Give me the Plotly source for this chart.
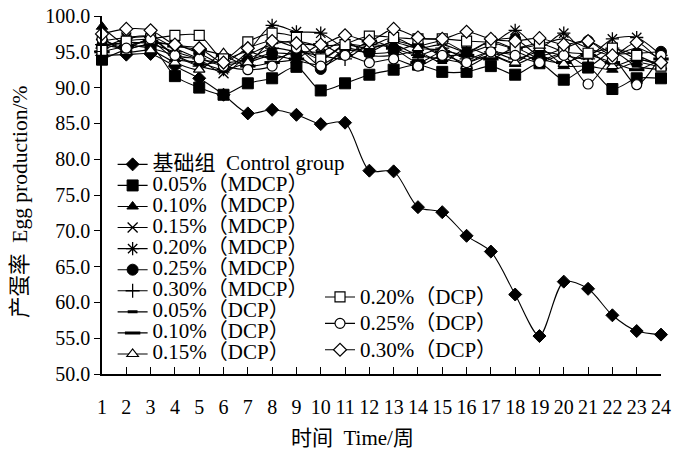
import plotly.graph_objects as go

weeks = list(range(1, 25))

names = ["基础组  Control group", "0.05%（MDCP）", "0.10%（MDCP）", "0.15%（MDCP）",
         "0.20%（MDCP）", "0.25%（MDCP）", "0.30%（MDCP）", "0.05%（DCP）",
         "0.10%（DCP）", "0.15%（DCP）", "0.20%（DCP）", "0.25%（DCP）", "0.30%（DCP）"]

control = [94.5, 94.6, 94.7, 93.0, 91.3, 89.0, 86.4, 86.9, 86.2, 84.9, 85.1, 78.4,
           78.3, 73.3, 72.6, 69.3, 67.1, 61.1, 55.3, 62.9, 61.9, 58.2, 56.0, 55.5]
mdcp_005 = [93.9, 95.3, 95.8, 91.6, 90.0, 89.0, 90.6, 91.3, 92.9, 89.6, 90.6, 91.8,
            92.5, 93.2, 92.2, 92.2, 93.0, 91.8, 93.4, 91.1, 92.8, 89.8, 91.3, 91.3]
mdcp_010 = [98.5, 96.0, 96.5, 94.0, 93.5, 92.5, 93.5, 94.5, 93.8, 93.2, 95.0, 95.5,
            96.0, 94.5, 94.0, 93.5, 94.5, 93.3, 94.5, 93.0, 93.0, 92.5, 93.5, 92.8]
mdcp_015 = [96.5, 97.0, 97.2, 95.5, 94.0, 92.0, 94.5, 96.0, 96.5, 95.8, 96.0, 95.5,
            96.3, 95.5, 96.0, 95.0, 96.5, 95.5, 96.0, 96.8, 95.5, 94.5, 95.5, 94.0]
mdcp_020 = [95.5, 96.8, 97.0, 94.5, 93.0, 92.5, 95.0, 98.7, 97.8, 97.6, 95.5, 95.0,
            96.5, 95.8, 96.5, 95.0, 96.0, 98.0, 95.5, 97.6, 94.5, 96.8, 97.0, 94.5]
mdcp_025 = [95.8, 96.3, 96.2, 96.0, 94.8, 93.2, 93.8, 94.8, 94.5, 92.6, 95.5, 94.8,
            95.0, 96.0, 94.5, 94.8, 96.5, 96.8, 94.5, 95.5, 96.5, 94.8, 94.8, 95.0]
mdcp_030 = [96.0, 95.5, 96.0, 95.0, 94.0, 93.5, 94.0, 95.5, 95.0, 94.5, 94.0, 96.0,
            95.5, 94.5, 95.5, 94.0, 95.0, 94.0, 95.0, 94.5, 94.0, 95.5, 94.0, 93.5]
dcp_005 = [96.3, 96.0, 95.5, 94.5, 93.2, 93.8, 95.0, 94.0, 95.0, 95.0, 96.5, 94.5,
           94.5, 95.0, 93.5, 95.5, 94.5, 95.0, 93.8, 94.8, 93.0, 95.0, 93.0, 92.5]
dcp_010 = [95.0, 95.8, 96.5, 95.8, 95.3, 94.5, 93.0, 93.5, 94.0, 96.0, 94.5, 96.5,
           95.5, 93.5, 95.0, 94.5, 94.0, 95.5, 94.0, 93.5, 94.5, 93.5, 92.5, 94.0]
dcp_015 = [97.0, 95.0, 95.2, 93.5, 92.5, 94.8, 93.5, 96.5, 95.5, 94.0, 96.0, 95.8,
           97.0, 95.5, 95.2, 93.0, 94.5, 93.5, 95.5, 93.3, 95.0, 93.0, 94.0, 93.0]
dcp_020 = [95.2, 96.5, 96.8, 97.3, 97.3, 94.0, 96.4, 97.6, 97.0, 94.0, 96.0, 97.2,
           97.0, 96.8, 96.8, 96.5, 96.3, 95.5, 96.2, 95.0, 94.8, 95.5, 94.5, 93.0]
dcp_025 = [96.8, 95.5, 96.8, 94.5, 94.0, 93.0, 92.5, 93.0, 95.5, 93.0, 94.5, 93.5,
           94.0, 93.0, 94.5, 93.5, 95.0, 94.5, 93.5, 94.5, 90.5, 94.0, 90.4, 94.5]
dcp_030 = [97.5, 98.2, 98.0, 96.0, 95.5, 93.5, 95.5, 96.5, 96.2, 96.0, 97.3, 96.5,
           98.2, 97.0, 96.8, 97.8, 96.8, 96.5, 96.9, 96.0, 96.5, 94.5, 96.3, 93.5]

series = [control, mdcp_005, mdcp_010, mdcp_015, mdcp_020, mdcp_025, mdcp_030,
          dcp_005, dcp_010, dcp_015, dcp_020, dcp_025, dcp_030]

y_ticks = [50 + 5 * i for i in range(11)]

x_title = "时间  Time/周"
y_title = "产蛋率  Egg production/%"

# marker styles: (symbol, size, fill, line width)
styles = [
    ("diamond", 10, "black", 1),
    ("square", 11, "black", 1),
    ("triangle-up", 10, "black", 1),
    ("x-thin-open", 10, "black", 1.3),
    ("asterisk-open", 11, "black", 1.3),
    ("circle", 11, "black", 1),
    ("cross-thin-open", 10, "black", 1.3),
    ("line-ew-open", 7, "black", 3),
    ("line-ew-open", 11, "black", 3),
    ("triangle-up", 10, "white", 1.2),
    ("square", 10, "white", 1.2),
    ("circle", 10, "white", 1.2),
    ("diamond", 10, "white", 1.2),
]

FONT = "Liberation Serif, Times New Roman, Noto Sans CJK SC, serif"

fig = go.Figure()
for i, (nm, vals, st) in enumerate(zip(names, series, styles)):
    sym, sz, fill, lw = st
    second = i >= 10
    label = f'<span style="font-size:21px">{nm}</span>'
    fig.add_trace(go.Scatter(
        x=weeks, y=vals, name=label, mode="lines+markers",
        line=dict(color="black", width=1.1, shape="spline", smoothing=0.8),
        marker=dict(symbol=sym, size=sz, color=fill,
                    line=dict(color="black", width=lw)),
        cliponaxis=False,
        legend="legend2" if second else "legend",
    ))

fig.update_layout(
    width=675, height=451,
    margin=dict(l=102, r=14, t=16, b=77, autoexpand=False),
    plot_bgcolor="white", paper_bgcolor="white",
    font=dict(family=FONT, size=20, color="black"),
    showlegend=True,
    legend=dict(x=0.019, y=0.629, xanchor="left", yanchor="top",
                bgcolor="rgba(0,0,0,0)", font=dict(size=13.9, family=FONT),
                tracegroupgap=0, itemwidth=30),
    legend2=dict(x=0.39, y=0.266, xanchor="left", yanchor="top",
                 bgcolor="rgba(0,0,0,0)", font=dict(size=18, family=FONT),
                 tracegroupgap=0, itemwidth=30),
    xaxis=dict(range=[1, 24], tickmode="array", tickvals=weeks,
               ticktext=[str(w) for w in weeks], automargin=False,
               showline=True, linecolor="black", linewidth=1.5,
               ticks="inside", ticklen=7, tickcolor="black", tickwidth=1.2,
               showgrid=False, zeroline=False, ticklabelstandoff=14,
               tickfont=dict(size=20, family=FONT)),
    yaxis=dict(range=[50, 100], tickmode="array", tickvals=y_ticks,
               ticktext=[f"{v:.1f}" for v in y_ticks], automargin=False,
               showline=True, linecolor="black", linewidth=1.5,
               ticks="outside", ticklen=6, tickcolor="black", tickwidth=1.2,
               showgrid=False, zeroline=False,
               tickfont=dict(size=20, family=FONT)),
    annotations=[
        dict(text=x_title, xref="paper", yref="paper", x=0.448, y=0,
             xanchor="center", yanchor="middle", yshift=-64, showarrow=False,
             font=dict(size=21, family=FONT)),
        dict(text=y_title, xref="paper", yref="paper", x=0, y=0.5,
             xanchor="center", yanchor="middle", xshift=-82, yshift=-7,
             textangle=-90, showarrow=False, font=dict(size=21.5, family=FONT)),
    ],
)

fig.write_html("out.html", config={"displayModeBar": False},
               post_script="document.body.style.margin='0px';")
